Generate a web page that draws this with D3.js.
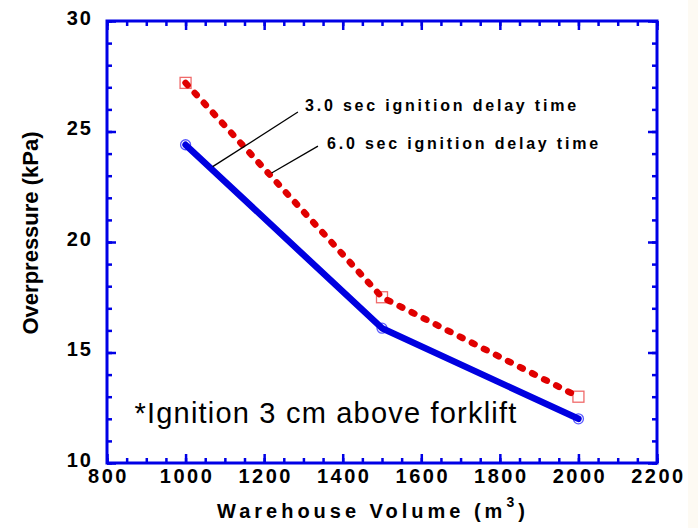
<!DOCTYPE html>
<html>
<head>
<meta charset="utf-8">
<script src="https://cdn.jsdelivr.net/npm/d3@7"></script>
<style>
  body { margin: 0; background: #fff; }
  text { font-family: "Liberation Sans", Arial, sans-serif; }
</style>
</head>
<body>
<div id="chart"></div>
<script>
// data
const volumes = [1000, 1500, 2000];
const delay3 = [24.4, 16.1, 12.0];   // blue, solid
const delay6 = [27.2, 17.5, 13.0];   // red, dotted
const xTicks = [800, 1000, 1200, 1400, 1600, 1800, 2000, 2200];
const yTicks = [10, 15, 20, 25, 30];
// leader lines for the labels, in data units
const notes = [
  { text: "3.0 sec ignition delay time", from: [1069, 23.41], to: [1286, 25.88], at: [1304, 25.93] },
  { text: "6.0 sec ignition delay time", from: [1219, 23.12], to: [1337, 24.34], at: [1360, 24.21] }
];
const remark = { text: "*Ignition 3 cm above forklift", at: [870, 11.8] };

const W = 698, H = 528;
const margin = { top: 21, right: 41, bottom: 65, left: 107 },
  width = W - margin.left - margin.right,
  height = H - margin.top - margin.bottom;
const axisBlue = "#0000e6";

const svg = d3.select("#chart").append("svg")
  .attr("width", W).attr("height", H);

// faint cream strip on the right edge, as in the scan
svg.append("rect").attr("x", 688).attr("y", 0).attr("width", 10).attr("height", H)
  .attr("fill", "#fdfaf3");

const g = svg.append("g")
  .attr("transform", "translate(" + margin.left + "," + margin.top + ")");

const x = d3.scaleLinear().domain([800, 2200]).range([0, width]);
const y = d3.scaleLinear().domain([10, 30]).range([height, 0]);

// minor ticks (inward)
function minor(axis, vals) {
  return axis.tickValues(vals).tickSize(-5).tickFormat("");
}
const xMinor = d3.range(800, 2201, 50);
const yMinor = d3.range(10, 30.01, 1);

const axes = [
  g.append("g").attr("transform", "translate(0," + height + ")").call(minor(d3.axisBottom(x), xMinor)),
  g.append("g").call(minor(d3.axisTop(x), xMinor)),
  g.append("g").call(minor(d3.axisLeft(y), yMinor)),
  g.append("g").attr("transform", "translate(" + width + ",0)").call(minor(d3.axisRight(y), yMinor)),
  g.append("g").call(d3.axisTop(x).tickValues(xTicks).tickSize(-9).tickFormat("")),
  g.append("g").attr("transform", "translate(" + width + ",0)")
    .call(d3.axisRight(y).tickValues(yTicks).tickSize(-9).tickFormat(""))
];

const xAxis = g.append("g")
  .attr("transform", "translate(0," + height + ")")
  .call(d3.axisBottom(x).tickValues(xTicks).tickSize(-9).tickPadding(6).tickFormat(d3.format("d")));
const yAxis = g.append("g")
  .call(d3.axisLeft(y).tickValues(yTicks).tickSize(-9).tickPadding(14).tickFormat(d3.format("d")));
axes.push(xAxis, yAxis);

axes.forEach(function (a) {
  a.select(".domain").remove();
  a.selectAll("line").attr("stroke", axisBlue).attr("stroke-width", 2.5);
});
xAxis.selectAll("text")
  .attr("font-size", 20).attr("font-weight", "bold").attr("fill", "#000")
  .attr("letter-spacing", "2.5px").attr("dx", "1px");
yAxis.selectAll("text")
  .attr("font-size", 20).attr("font-weight", "bold").attr("fill", "#000")
  .attr("letter-spacing", "2px").attr("dy", "0.15em");

// frame
g.append("rect").attr("width", width).attr("height", height)
  .attr("fill", "none").attr("stroke", axisBlue).attr("stroke-width", 3);

// markers under the lines
g.selectAll(".sq").data(volumes).enter().append("rect")
  .attr("x", function (d) { return x(d) - 5.5; })
  .attr("y", function (d, i) { return y(delay6[i]) - 5.5; })
  .attr("width", 11).attr("height", 11)
  .attr("fill", "none").attr("stroke", "#f06a6a").attr("stroke-width", 1.3);
g.selectAll(".ci").data(volumes).enter().append("circle")
  .attr("cx", function (d) { return x(d); })
  .attr("cy", function (d, i) { return y(delay3[i]); })
  .attr("r", 5)
  .attr("fill", "none").attr("stroke", "#5a5aff").attr("stroke-width", 1.3);

const line = d3.line()
  .x(function (d) { return x(d[0]); })
  .y(function (d) { return y(d[1]); });

g.append("path")
  .attr("d", line(d3.zip(volumes, delay6)))
  .attr("fill", "none").attr("stroke", "#e00000").attr("stroke-width", 6.5)
  .attr("stroke-linecap", "round").attr("stroke-dasharray", "3,10.5");
g.append("path")
  .attr("d", line(d3.zip(volumes, delay3)))
  .attr("fill", "none").attr("stroke", "#0000e0").attr("stroke-width", 6.5)
  .attr("stroke-linejoin", "round").attr("stroke-linecap", "round");

// labels with leader lines
g.selectAll(".lead").data(notes).enter().append("line")
  .attr("x1", function (d) { return x(d.from[0]); })
  .attr("y1", function (d) { return y(d.from[1]); })
  .attr("x2", function (d) { return x(d.to[0]); })
  .attr("y2", function (d) { return y(d.to[1]); })
  .attr("stroke", "#000").attr("stroke-width", 1.3);
g.selectAll(".note").data(notes).enter().append("text")
  .attr("x", function (d) { return x(d.at[0]); })
  .attr("y", function (d) { return y(d.at[1]); })
  .attr("font-size", 16).attr("font-weight", "bold")
  .attr("letter-spacing", "2.8px")
  .text(function (d) { return d.text; });

g.append("text")
  .attr("x", x(remark.at[0])).attr("y", y(remark.at[1]))
  .attr("font-size", 29).attr("letter-spacing", "1.2px")
  .text(remark.text);

// axis titles
const xt = svg.append("text")
  .attr("x", 217).attr("y", 518)
  .attr("font-size", 20).attr("font-weight", "bold")
  .attr("letter-spacing", "4px");
xt.append("tspan").text("Warehouse Volume (m");
xt.append("tspan").attr("font-size", 14).attr("dy", -11).text("3");
xt.append("tspan").attr("dy", 11).text(")");

svg.append("text")
  .attr("transform", "translate(38,233) rotate(-90)")
  .attr("text-anchor", "middle")
  .attr("font-size", 22).attr("font-weight", "bold")
  .text("Overpressure (kPa)");
</script>
</body>
</html>
